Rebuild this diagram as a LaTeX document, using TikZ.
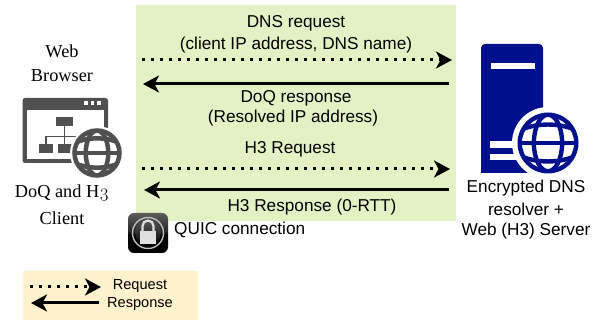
\documentclass[tikz,border=0pt]{standalone}
\usepackage{fontspec}
\setmainfont{Liberation Serif}
\setsansfont{Liberation Sans}
\newfontfamily\lmo[Numbers=OldStyle]{Latin Modern Roman}
\usetikzlibrary{arrows.meta}
\definecolor{greenbg}{HTML}{E3F2C4}
\definecolor{legendbg}{HTML}{FFF2CC}
\definecolor{srv}{HTML}{000F8C}
\definecolor{icon}{HTML}{505050}
\pgfdeclareverticalshading{lockshade}{100bp}{
  color(0bp)=(black!70); color(25bp)=(black); color(48bp)=(black);
  color(52bp)=(black!85); color(100bp)=(black!40)}
\tikzset{
  x=1pt,y=-1pt,
  tip/.style={-{Stealth[length=16pt,width=17pt,inset=4.5pt]}},
  req/.style={tip,line width=3pt,dash pattern=on 3pt off 6pt},
  resp/.style={tip,line width=3pt},
  sans/.style={font=\sffamily\fontsize{17.2}{20}\selectfont,inner sep=0pt,anchor=center},
  small/.style={font=\sffamily\fontsize{14.6}{17}\selectfont,inner sep=0pt,anchor=center},
  serif/.style={font=\fontsize{18.3}{21}\selectfont,inner sep=0pt,anchor=center},
}
\newcommand{\myglobe}[6]{% cx cy r lw colour halo
  \fill[white] (#1,#2) circle[radius=#6];
  \begin{scope}[shift={(#1,#2)}]
    \begin{scope}
      \clip (0,0) circle[radius=#3];
      \draw[#5,line width=#4pt] (0,0) ellipse[x radius=#3*0.5,y radius=#3];
      \draw[#5,line width=#4pt] (-#3,0) -- (#3,0);
      \draw[#5,line width=#4pt] (-#3,-#3*0.45) .. controls (-#3*0.4,-#3*0.72) and (#3*0.4,-#3*0.72) .. (#3,-#3*0.45);
      \draw[#5,line width=#4pt] (-#3,#3*0.45) .. controls (-#3*0.4,#3*0.72) and (#3*0.4,#3*0.72) .. (#3,#3*0.45);
    \end{scope}
    \draw[#5,line width=#4pt] (0,0) circle[radius=#3];
  \end{scope}
}
\begin{document}
\begin{tikzpicture}
\useasboundingbox (0,0) rectangle (598,320);
\fill[greenbg] (136,5) rectangle (456,221);
\fill[legendbg] (23,271) rectangle (198,320);

% browser icon
\fill[icon,rounded corners=2.5pt] (22.5,98) rectangle (108,163);
\fill[white] (27,110) rectangle (104,159);
\foreach \xx in {86,92.5,99}{\fill[white] (\xx-1.8,101.5) rectangle (\xx+1.8,105);}
\fill[icon] (56,117) rectangle (73,126.5);
\fill[icon] (39,144) rectangle (53,153);
\fill[icon] (57.5,144) rectangle (72,153);
\draw[icon,line width=1.6pt] (64.5,126) -- (64.5,144) (46,144) -- (46,136.5) -- (90,136.5);
\myglobe{97}{153}{22.5}{4.5}{icon}{27}

% server icon
\fill[srv,rounded corners=4pt] (481,44) -- (543,44) -- (543,173) -- (481,173) -- cycle;
\fill[srv] (481,165) rectangle (500,173);
\fill[white] (491,63) rectangle (534.5,69.5);
\fill[white] (490,141) rectangle (520,148);
\fill[white] (490,154) rectangle (520,160);
\myglobe{548}{143}{28.3}{4.4}{srv}{36}

% lock icon
\shade[shading=lockshade,rounded corners=6pt] (128,213) rectangle (168,253);
\draw[black!25,line width=1.4pt] (148,233) circle[radius=15.5];
\shade[top color=black!65,bottom color=black] (148,233) circle[radius=13];
\draw[black!12,line width=2.2pt] (142.5,231) -- (142.5,226) arc[start angle=180,end angle=360,radius=5.5] -- (153.5,231);
\fill[black!12] (140,231) rectangle (156,244);

% labels
\node[sans] (t1) at (296,23.5) {DNS request};
\node[sans] (t2) at (296,45.5) {(client IP address, DNS name)};
\node[sans] (t3) at (296,98.5) {DoQ response};
\node[sans] (t4) at (293,118.5) {(Resolved IP address)};
\node[sans] (t5) at (290,149) {H3 Request};
\node[sans] (t6) at (312,207) {H3 Response (0-RTT)};
\node[sans,anchor=west] (t7) at (174,230) {QUIC connection};
\node[sans] (s1) at (526,188.5) {Encrypted DNS};
\node[sans] (s2) at (526,209.5) {resolver +};
\node[sans] (s3) at (526,231.5) {Web (H3) Server};
\node[serif] (b1) at (62,51) {Web};
\node[serif] (b2) at (62,76) {Browser};
\node[serif] (b3) at (62,193) {DoQ and H{\lmo 3}};
\node[serif] (b4) at (62,218) {Client};
\node[small] (l1) at (140,286) {Request};
\node[small] (l2) at (140,304) {Response};

% connectors
\coordinate (a1s) at (142,60); \coordinate (a1e) at (452,60);
\coordinate (a2s) at (449,84); \coordinate (a2e) at (143,84);
\coordinate (a3s) at (142,169); \coordinate (a3e) at (450,169);
\coordinate (a4s) at (449,190); \coordinate (a4e) at (144,190);
\coordinate (l1s) at (30,287); \coordinate (l1e) at (101,287);
\coordinate (l2s) at (99,303); \coordinate (l2e) at (31,303);
\draw[req] (a1s) -- (a1e);
\draw[resp] (a2s) -- (a2e);
\draw[req] (a3s) -- (a3e);
\draw[resp] (a4s) -- (a4e);
\draw[req] (l1s) -- (l1e);
\draw[resp] (l2s) -- (l2e);
\end{tikzpicture}
\end{document}
